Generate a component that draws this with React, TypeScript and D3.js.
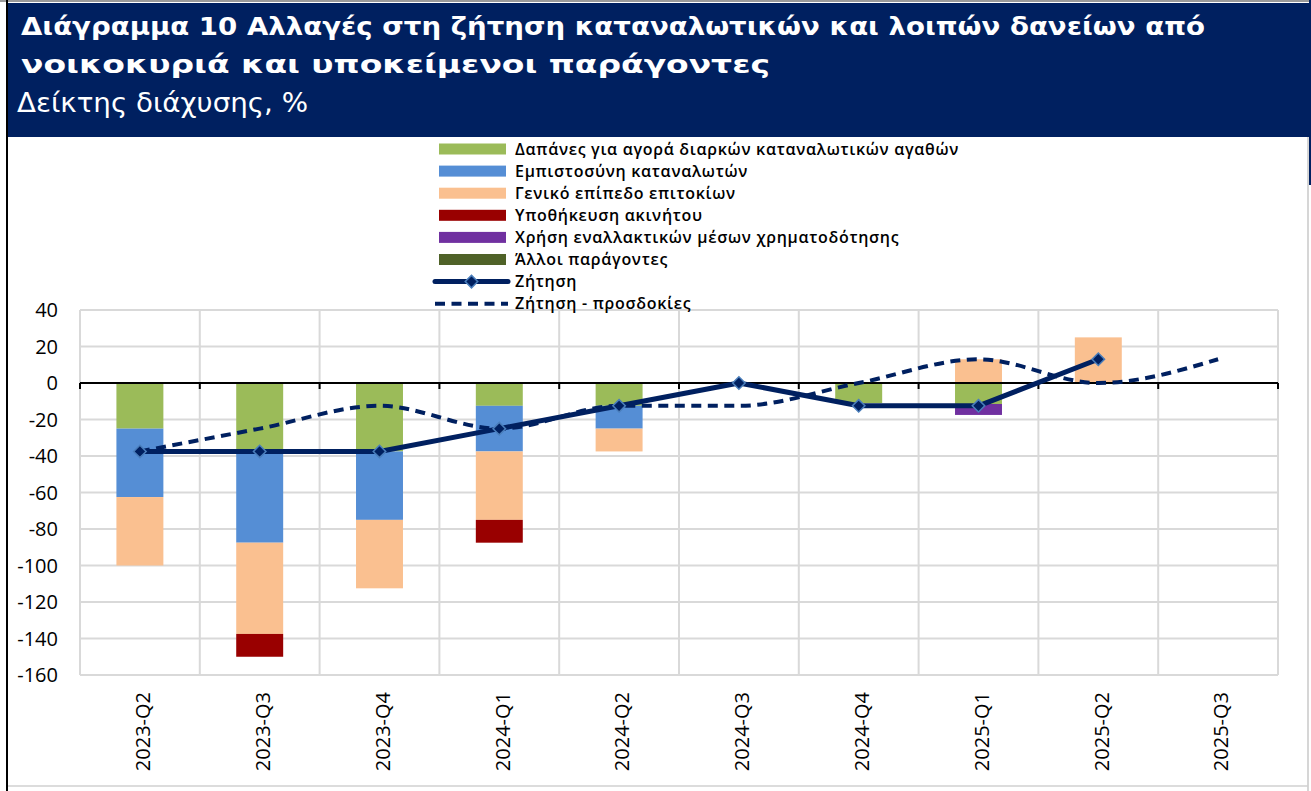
import React from 'react';
import * as d3 from 'd3';

const categories = ['2023-Q2', '2023-Q3', '2023-Q4', '2024-Q1', '2024-Q2', '2024-Q3', '2024-Q4', '2025-Q1', '2025-Q2', '2025-Q3'];

const durableGoods = [-25, -37.5, -37.5, -12.5, -12.5, 0, -11, -11.5, 0, 0];
const consumerConfidence = [-37.5, -50, -37.5, -25, -12.5, 0, 0, 0, 0, 0];
const interestRates = [-37.5, -50, -37.5, -37.5, -12.5, 0, 0, 13, 25, 0];
const collateral = [0, -12.5, 0, -12.5, 0, 0, 0, 0, 0, 0];
const altFinance = [0, 0, 0, 0, 0, 0, 0, -6, 0, 0];
const otherFactors = [0, 0, 0, 0, 0, 0, 0, 0, 0, 0];

const demand: (number | null)[] = [-37.5, -37.5, -37.5, -25, -12.5, 0, -12.5, -12.5, 13, null];
const demandExpectations = [-37.5, -25, -12.5, -25, -12.5, -12.5, 0, 13, 0, 13];

const yTicks = [40, 20, 0, -20, -40, -60, -80, -100, -120, -140, -160];

const barSeriesNames = [
  'Δαπάνες για αγορά διαρκών καταναλωτικών αγαθών',
  'Εμπιστοσύνη καταναλωτών',
  'Γενικό επίπεδο επιτοκίων',
  'Υποθήκευση ακινήτου',
  'Χρήση εναλλακτικών μέσων χρηματοδότησης',
  'Άλλοι παράγοντες',
];
const lineSeriesNames = ['Ζήτηση', 'Ζήτηση - προσδοκίες'];
const barColors = ['#9BBB59', '#558ED5', '#FAC090', '#990000', '#7030A0', '#4F6228'];

const titleLines = [
  'Διάγραμμα 10 Αλλαγές στη ζήτηση καταναλωτικών και λοιπών δανείων από',
  'νοικοκυριά και υποκείμενοι παράγοντες',
];
const subtitle = 'Δείκτης διάχυσης, %';

const NAVY = '#002060';

export default function App() {
  const W = 1311;
  const H = 791;
  const plot = { left: 80, right: 1278, top: 310, bottom: 675 };

  const x = d3.scaleBand<string>().domain(categories).range([plot.left, plot.right]).paddingInner(0).paddingOuter(0);
  const y = d3.scaleLinear().domain([-160, 40]).range([plot.bottom, plot.top]);
  const step = x.step();
  const barW = step * 0.392;
  const cx = (c: string) => (x(c) as number) + step / 2;

  const keys = ['k0', 'k1', 'k2', 'k3', 'k4', 'k5'];
  const seriesArrays = [durableGoods, consumerConfidence, interestRates, collateral, altFinance, otherFactors];
  const table = categories.map((c, i) => {
    const row: any = { cat: c };
    keys.forEach((k, j) => (row[k] = seriesArrays[j][i]));
    return row;
  });
  const stacked = d3.stack<any>().keys(keys).offset(d3.stackOffsetDiverging)(table);

  const demandLine = d3
    .line<number | null>()
    .defined((d) => d != null)
    .x((_, i) => cx(categories[i]))
    .y((d) => y(d as number));
  const expLine = d3
    .line<number>()
    .curve(d3.curveMonotoneX)
    .x((_, i) => cx(categories[i]))
    .y((d) => y(d));

  const diamond = d3.symbol().type(d3.symbolSquare).size(78)() as string;

  const boundaries = d3.range(categories.length + 1).map((i) => plot.left + i * step);

  const legendX = 439;
  const legendSwW = 67;
  const legendTextX = 515;
  const legendY0 = 149;
  const legendDy = 22.1;

  return (
    <svg width={W} height={H} style={{ position: 'absolute', left: 0, top: 0, background: '#fff' }}>
      {/* frame */}
      <rect x={0} y={0} width={W} height={H} fill="#fff" />
      <line x1={0} y1={1} x2={W} y2={1} stroke="#9a9a9a" strokeWidth={2} />
      <rect x={8} y={3} width={1301} height={134} fill={NAVY} />
      <rect x={1309} y={0} width={2} height={185} fill={NAVY} />
      <line x1={1308} y1={137} x2={1308} y2={H} stroke="#c8c8c8" strokeWidth={1.5} />
      <line x1={8} y1={786} x2={1308} y2={786} stroke="#d0d0d0" strokeWidth={1.5} />
      <line x1={7} y1={0} x2={7} y2={H} stroke="#000" strokeWidth={2} />

      {/* title */}
      <g fill="#fff" fontFamily="'DejaVu Sans', Verdana, sans-serif">
        <text x={21} y={35} fontSize={24.5} fontWeight="bold" textLength={1184} lengthAdjust="spacingAndGlyphs">
          {titleLines[0]}
        </text>
        <text x={21} y={73} fontSize={24.5} fontWeight="bold" textLength={749} lengthAdjust="spacingAndGlyphs">
          {titleLines[1]}
        </text>
        <text x={17} y={112} fontSize={27} textLength={291} lengthAdjust="spacingAndGlyphs">
          {subtitle}
        </text>
      </g>

      {/* gridlines */}
      <g stroke="#d9d9d9" strokeWidth={2}>
        {yTicks
          .filter((t) => t !== 0)
          .map((t) => (
            <line key={'h' + t} x1={plot.left} x2={plot.right} y1={y(t)} y2={y(t)} />
          ))}
        {boundaries.map((bx, i) => (
          <line key={'v' + i} x1={bx} x2={bx} y1={plot.top} y2={plot.bottom} />
        ))}
      </g>

      {/* bars */}
      {stacked.map((s, si) => (
        <g key={s.key} fill={barColors[si]}>
          {s.map((d, i) => {
            const y0 = y(d[0]);
            const y1 = y(d[1]);
            const h = Math.abs(y0 - y1);
            if (h < 0.01) return null;
            return <rect key={i} x={cx(categories[i]) - barW / 2} y={Math.min(y0, y1)} width={barW} height={h} />;
          })}
        </g>
      ))}

      {/* zero axis */}
      <line x1={plot.left} x2={plot.right} y1={y(0)} y2={y(0)} stroke="#000" strokeWidth={2} />
      {boundaries.map((bx, i) => (
        <line key={'t' + i} x1={bx} x2={bx} y1={y(0)} y2={y(0) + 6} stroke="#000" strokeWidth={2} />
      ))}

      {/* expectations line */}
      <path d={expLine(demandExpectations) as string} fill="none" stroke={NAVY} strokeWidth={4} strokeDasharray="10 6.5" />

      {/* demand line */}
      <path d={demandLine(demand) as string} fill="none" stroke={NAVY} strokeWidth={5} strokeLinejoin="round" />
      {demand.map((v, i) =>
        v == null ? null : (
          <path
            key={'m' + i}
            d={diamond}
            transform={`translate(${cx(categories[i])},${y(v)}) rotate(45)`}
            fill={NAVY}
            stroke="#4A7EBB"
            strokeWidth={1.5}
          />
        )
      )}

      {/* y axis labels */}
      <g fontFamily="'Open Sans', sans-serif" fontSize={20} fill="#000" textAnchor="end">
        {yTicks.map((t) => (
          <text key={'yl' + t} x={58} y={y(t)} dy="0.36em">
            {t}
          </text>
        ))}
      </g>

      {/* x axis labels */}
      <g fontFamily="'Open Sans', sans-serif" fontSize={20} fill="#000" textAnchor="end">
        {categories.map((c) => (
          <text key={'xl' + c} transform={`translate(${cx(c) + 3},${692}) rotate(-90)`} dy="0.36em">
            {c}
          </text>
        ))}
      </g>

      {/* legend */}
      <g fontFamily="'Open Sans', sans-serif" fontSize={16} fontWeight={600} fill="#000" letterSpacing={0.7}>
        {barSeriesNames.map((n, i) => {
          const ly = legendY0 + i * legendDy;
          return (
            <g key={'lg' + i}>
              <rect x={legendX} y={ly - 5.5} width={legendSwW} height={11} fill={barColors[i]} />
              <text x={legendTextX} y={ly} dy="0.36em">
                {n}
              </text>
            </g>
          );
        })}
        {lineSeriesNames.map((n, j) => {
          const ly = legendY0 + (barSeriesNames.length + j) * legendDy;
          return (
            <g key={'ll' + j}>
              <line
                x1={legendX - 4}
                x2={legendX + legendSwW + 2}
                y1={ly}
                y2={ly}
                stroke={NAVY}
                strokeWidth={j === 0 ? 5 : 4}
                strokeDasharray={j === 0 ? undefined : '10 6.5'}
                strokeLinecap={j === 0 ? 'round' : 'butt'}
              />
              {j === 0 && (
                <path
                  d={diamond}
                  transform={`translate(${legendX + legendSwW / 2 - 1},${ly}) rotate(45)`}
                  fill={NAVY}
                  stroke="#4A7EBB"
                  strokeWidth={1.5}
                />
              )}
              <text x={legendTextX} y={ly} dy="0.36em">
                {n}
              </text>
            </g>
          );
        })}
      </g>
    </svg>
  );
}
